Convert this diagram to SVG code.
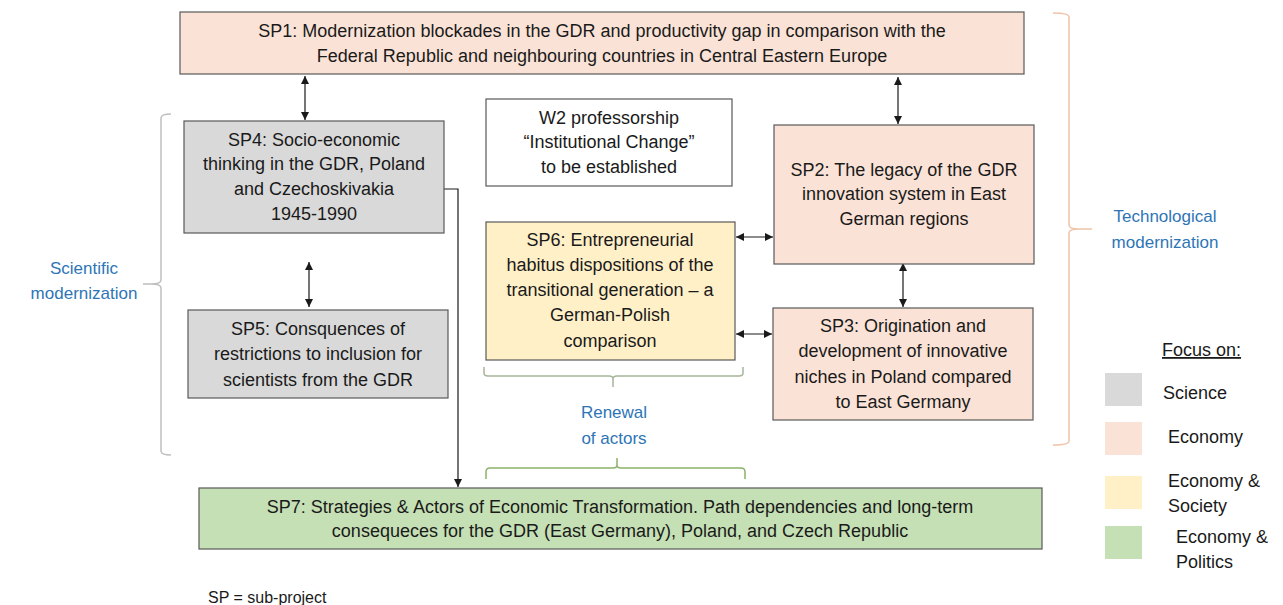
<svg xmlns="http://www.w3.org/2000/svg" width="1283" height="605" viewBox="0 0 1283 605">
<style>
.box{stroke:#595959;stroke-width:1.2}
.sci{fill:#D9D9D9}
.eco{fill:#FAE3D6}
.soc{fill:#FFF0C8}
.pol{fill:#C5E0B4}
.wh{fill:#FFFFFF}
text{font-family:"Liberation Sans",Arial,sans-serif;font-size:18px;fill:#1a1a1a}
.c{text-anchor:middle}
.blue{fill:#2E75B6;font-size:17px}
.small{font-size:16px}
.conn{stroke:#1a1a1a;stroke-width:1.2;fill:none}
.br{fill:none;stroke-width:1.5}
</style>
<defs>
<marker id="ah" viewBox="0 0 10 10" refX="10" refY="5" markerWidth="8" markerHeight="8" markerUnits="userSpaceOnUse" orient="auto-start-reverse">
<path d="M0,0 L10,5 L0,10 z" fill="#1a1a1a"/>
</marker>
</defs>
<rect width="1283" height="605" fill="#FFFFFF"/>

<g id="brackets">
<path class="br" stroke="#BFBFBF" d="M171,114 Q161,114 161,118 L161,280 Q161,284 151,284 L143,284 M151,284 Q161,284 161,288 L161,451 Q161,455 171,455"/>
<path class="br" stroke="#F0C4A8" d="M1053,13 Q1069,13 1069,17 L1069,225 Q1069,229 1079,229 L1092,229 M1079,229 Q1069,229 1069,233 L1069,441 Q1069,445 1053,445"/>
<path class="br" stroke="#A7B59A" d="M484,367 L484,373 Q484,376 488,376 L609,376 Q613,376 613,379 L613,387 M613,379 Q613,376 617,376 L739,376 Q743,376 743,373 L743,367"/>
<path class="br" stroke="#8DB36B" d="M486,479 L486,472 Q486,468 490,468 L613,468 Q617,468 617,465 L617,458 M617,465 Q617,468 621,468 L741,468 Q745,468 745,472 L745,479"/>
</g>

<g id="connectors">
<line class="conn" x1="305" y1="76" x2="305" y2="120" marker-start="url(#ah)" marker-end="url(#ah)"/>
<line class="conn" x1="898" y1="77" x2="898" y2="124" marker-start="url(#ah)" marker-end="url(#ah)"/>
<line class="conn" x1="309" y1="262" x2="309" y2="307" marker-start="url(#ah)" marker-end="url(#ah)"/>
<line class="conn" x1="903" y1="263" x2="903" y2="307" marker-start="url(#ah)" marker-end="url(#ah)"/>
<line class="conn" x1="736" y1="237" x2="773" y2="237" marker-start="url(#ah)" marker-end="url(#ah)"/>
<line class="conn" x1="736" y1="334" x2="772" y2="334" marker-start="url(#ah)" marker-end="url(#ah)"/>
<polyline class="conn" points="444,189 458,189 458,487" marker-end="url(#ah)"/>
</g>

<g id="sp1">
<rect class="box eco" x="180" y="12" width="844" height="62"/>
<text class="c" x="602" y="37">SP1: Modernization blockades in the GDR and productivity gap in comparison with the</text>
<text class="c" x="602" y="62">Federal Republic and neighbouring countries in Central Eastern Europe</text>
</g>

<g id="sp4">
<rect class="box sci" x="184" y="121" width="260" height="112"/>
<text class="c" x="314" y="146">SP4: Socio-economic</text>
<text class="c" x="314" y="170">thinking in the GDR, Poland</text>
<text class="c" x="314" y="195">and Czechoskivakia</text>
<text class="c" x="314" y="220">1945-1990</text>
</g>

<g id="w2">
<rect class="box wh" x="486" y="99" width="246" height="87"/>
<text class="c" x="609" y="124">W2 professorship</text>
<text class="c" x="609" y="148">“Institutional Change”</text>
<text class="c" x="609" y="173">to be established</text>
</g>

<g id="sp2">
<rect class="box eco" x="774" y="125" width="260" height="139"/>
<text class="c" x="904" y="176">SP2: The legacy of the GDR</text>
<text class="c" x="904" y="200">innovation system in East</text>
<text class="c" x="904" y="225">German regions</text>
</g>

<g id="sp6">
<rect class="box soc" x="486" y="222" width="249" height="138"/>
<text class="c" x="610" y="246">SP6: Entrepreneurial</text>
<text class="c" x="610" y="271">habitus dispositions of the</text>
<text class="c" x="610" y="296">transitional generation – a</text>
<text class="c" x="610" y="321">German-Polish</text>
<text class="c" x="610" y="347">comparison</text>
</g>

<g id="sp3">
<rect class="box eco" x="773" y="308" width="260" height="112"/>
<text class="c" x="903" y="332">SP3: Origination and</text>
<text class="c" x="903" y="357">development of innovative</text>
<text class="c" x="903" y="383">niches in Poland compared</text>
<text class="c" x="903" y="408">to East Germany</text>
</g>

<g id="sp5">
<rect class="box sci" x="188" y="310" width="260" height="88"/>
<text class="c" x="318" y="335">SP5: Consquences  of</text>
<text class="c" x="318" y="360">restrictions to inclusion for</text>
<text class="c" x="318" y="386">scientists from the GDR</text>
</g>

<g id="sp7">
<rect class="box pol" x="199" y="488" width="843" height="61"/>
<text class="c" x="620" y="513">SP7: Strategies &amp; Actors of Economic Transformation. Path dependencies and long-term</text>
<text class="c" x="620" y="537">consequeces  for the GDR (East Germany), Poland, and Czech Republic</text>
</g>

<g id="labels">
<text class="c blue" x="84" y="274">Scientific</text>
<text class="c blue" x="84" y="299">modernization</text>
<text class="c blue" x="1165" y="222">Technological</text>
<text class="c blue" x="1165" y="248">modernization</text>
<text class="c blue" x="614" y="418">Renewal</text>
<text class="c blue" x="614" y="444">of actors</text>
</g>

<g id="legend">
<text x="1162" y="356" text-decoration="underline">Focus on:</text>
<rect class="sci" x="1105" y="373" width="37" height="33"/>
<text x="1163" y="399">Science</text>
<rect class="eco" x="1105" y="422" width="37" height="33"/>
<text x="1168" y="443">Economy</text>
<rect class="soc" x="1105" y="476" width="37" height="33"/>
<text x="1168" y="487">Economy &amp;</text>
<text x="1168" y="512">Society</text>
<rect class="pol" x="1105" y="526" width="37" height="33"/>
<text x="1176" y="543">Economy &amp;</text>
<text x="1176" y="568">Politics</text>
</g>

<text class="small" x="208" y="603">SP = sub-project</text>
</svg>
